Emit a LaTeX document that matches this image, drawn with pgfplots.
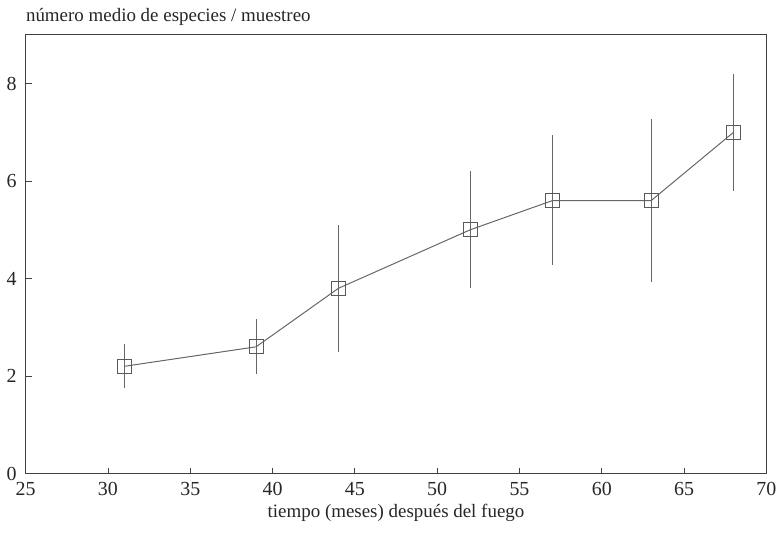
\documentclass[border=0pt]{standalone}
\usepackage{pgfplots}
\pgfplotsset{compat=1.18}
\usepackage{fontspec}
\setmainfont{Liberation Serif}
\begin{document}
\begin{tikzpicture}
\begin{axis}[
  width=371.5pt, height=220pt, scale only axis,
  xmin=25, xmax=70, ymin=0, ymax=9,
  xtick={25,30,...,70}, ytick={0,2,4,6,8},
  tick align=inside, major tick length=3pt,
  xtick pos=bottom, ytick pos=left,
  axis line style={black!75, line width=0.5pt},
  tick style={black!75, line width=0.4pt},
  ticklabel style={font=\fontsize{10}{12}\selectfont, text=black!85},
  /pgf/number format/assume math mode=true,
  xticklabel style={yshift=-1pt},
  yticklabel style={xshift=-1pt},
  xlabel={tiempo (meses) después del fuego},
  xlabel style={font=\fontsize{9.5}{11}\selectfont, text=black!85, yshift=3pt},
  clip=false,
]
\addplot[black!60, line width=0.5pt, mark=square, mark size=3.5pt,
  mark options={black!65, line width=0.5pt},
  error bars/.cd, y dir=both, y explicit, error mark=none,
  error bar style={black!60, line width=0.4pt}]
  table[x=x, y=y, y error plus=ep, y error minus=em]{
x  y    ep   em
31 2.2  0.45 0.45
39 2.6  0.58 0.55
44 3.8  1.30 1.30
52 5.0  1.20 1.20
57 5.6  1.35 1.33
63 5.6  1.67 1.67
68 7.0  1.20 1.20
};
\node[anchor=base west, inner sep=0pt, font=\fontsize{9.5}{11}\selectfont, text=black!85]
  at (rel axis cs:0,1) [yshift=6.5pt] {número medio de especies / muestreo};
\end{axis}
\path (current axis.south west) ++(-12.5pt,-31.5pt) coordinate (bl);
\path (current axis.north east) ++(7.5pt,17.5pt) coordinate (tr);
\useasboundingbox (bl) rectangle (tr);
\end{tikzpicture}
\end{document}
